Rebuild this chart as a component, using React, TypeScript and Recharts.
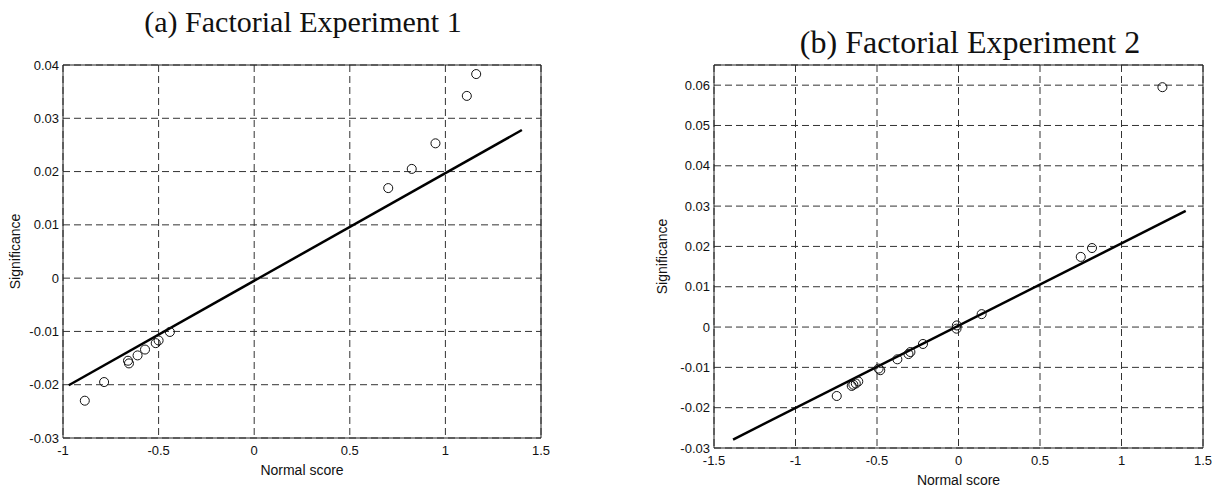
import {
  ScatterChart, Scatter, XAxis, YAxis, ZAxis, CartesianGrid, ReferenceArea,
} from 'recharts'

// (a) experiment 1: normal scores and effect significance
const scoreA = [-0.886, -0.785, -0.66, -0.655, -0.61, -0.571, -0.515, -0.5, -0.441, 0.701, 0.824, 0.948, 1.112, 1.161]
const sigA = [-0.023, -0.0195, -0.0155, -0.016, -0.0145, -0.0134, -0.0122, -0.0117, -0.0101, 0.0169, 0.0205, 0.0253, 0.0342, 0.0383]
const fitScoreA = [-0.97, 1.4]
const fitSigA = [-0.0201, 0.0278]
const xTicksA = [-1, -0.5, 0, 0.5, 1, 1.5]
const yTicksA = [-0.03, -0.02, -0.01, 0, 0.01, 0.02, 0.03, 0.04]

// (b) experiment 2
const scoreB = [-0.747, -0.655, -0.645, -0.63, -0.615, -0.49, -0.48, -0.375, -0.307, -0.295, -0.218, -0.01, -0.012, 0.142, 0.75, 0.819, 1.251]
const sigB = [-0.0171, -0.0146, -0.0143, -0.014, -0.0135, -0.0103, -0.0107, -0.008, -0.0067, -0.0062, -0.0042, 0.0004, -0.0004, 0.0032, 0.0174, 0.0196, 0.0595]
const fitScoreB = [-1.383, 1.394]
const fitSigB = [-0.0279, 0.0288]
const xTicksB = [-1.5, -1, -0.5, 0, 0.5, 1, 1.5]
const yTicksB = [-0.03, -0.02, -0.01, 0, 0.01, 0.02, 0.03, 0.04, 0.05, 0.06]

const zip = (xs: number[], ys: number[]) => xs.map((x, i) => ({ x, y: ys[i] }))

const tickStyle = { fontSize: 13, fill: '#111' }
const labelStyle = { fontSize: 14, fill: '#111', textAnchor: 'middle' as const }

function NormalPlot({ scores, sigs, fitX, fitY, xTicks, yTicks, yTop, width, height, margin, yAxisWidth }: {
  scores: number[]
  sigs: number[]
  fitX: number[]
  fitY: number[]
  xTicks: number[]
  yTicks: number[]
  yTop: number
  width: number
  height: number
  margin: { top: number, right: number, bottom: number, left: number }
  yAxisWidth: number
}) {
  const xMin = xTicks[0]
  const xMax = xTicks[xTicks.length - 1]
  const yMin = yTicks[0]
  return (
    <ScatterChart width={width} height={height} margin={margin}>
      <CartesianGrid stroke="#333" strokeDasharray="7 4" />
      <XAxis
        type="number" dataKey="x" domain={[xMin, xMax]} ticks={xTicks}
        axisLine={false} tickLine={false} tickSize={0} tickMargin={8}
        tick={tickStyle} height={40}
        label={{ value: 'Normal score', position: 'insideBottom', offset: 3, style: labelStyle }}
      />
      <YAxis
        type="number" dataKey="y" domain={[yMin, yTop]} ticks={yTicks}
        axisLine={false} tickLine={false} tickSize={0} tickMargin={4}
        tick={tickStyle} width={yAxisWidth} interval={0}
        label={{ value: 'Significance', angle: -90, position: 'insideLeft', offset: 2, style: labelStyle }}
      />
      <ZAxis range={[64, 64]} />
      <ReferenceArea x1={xMin} x2={xMax} y1={yMin} y2={yTop} fill="none" stroke="#222" strokeWidth={1} />
      <Scatter
        data={zip(fitX, fitY)} line={{ stroke: '#000', strokeWidth: 2.5 }} lineType="joint"
        shape={() => <g />} isAnimationActive={false}
      />
      <Scatter data={zip(scores, sigs)} fill="#fff" fillOpacity={0} stroke="#111" strokeWidth={1} isAnimationActive={false} />
    </ScatterChart>
  )
}

const titleStyle = {
  position: 'absolute' as const,
  fontFamily: '"Liberation Serif", "Times New Roman", serif',
  color: '#111',
  whiteSpace: 'nowrap' as const,
  transform: 'translate(-50%, -50%)',
  lineHeight: 1,
}

export default function App() {
  return (
    <div style={{ position: 'absolute', left: 0, top: 0, width: 1219, height: 488, background: '#fff', fontFamily: '"Liberation Sans", Arial, sans-serif' }}>
      <div style={{ ...titleStyle, left: 303, top: 22, fontSize: 30 }}>(a) Factorial Experiment 1</div>
      <div style={{ ...titleStyle, left: 970, top: 42, fontSize: 32 }}>(b) Factorial Experiment 2</div>
      <div style={{ position: 'absolute', left: 0, top: 0 }}>
        <NormalPlot
          scores={scoreA} sigs={sigA} fitX={fitScoreA} fitY={fitSigA}
          xTicks={xTicksA} yTicks={yTicksA} yTop={0.04}
          width={560} height={488} yAxisWidth={50}
          margin={{ top: 65, right: 19, bottom: 10, left: 13 }}
        />
      </div>
      <div style={{ position: 'absolute', left: 600, top: 0 }}>
        <NormalPlot
          scores={scoreB} sigs={sigB} fitX={fitScoreB} fitY={fitSigB}
          xTicks={xTicksB} yTicks={yTicksB} yTop={0.065}
          width={619} height={488} yAxisWidth={54}
          margin={{ top: 65, right: 16, bottom: 0, left: 60 }}
        />
      </div>
    </div>
  )
}
